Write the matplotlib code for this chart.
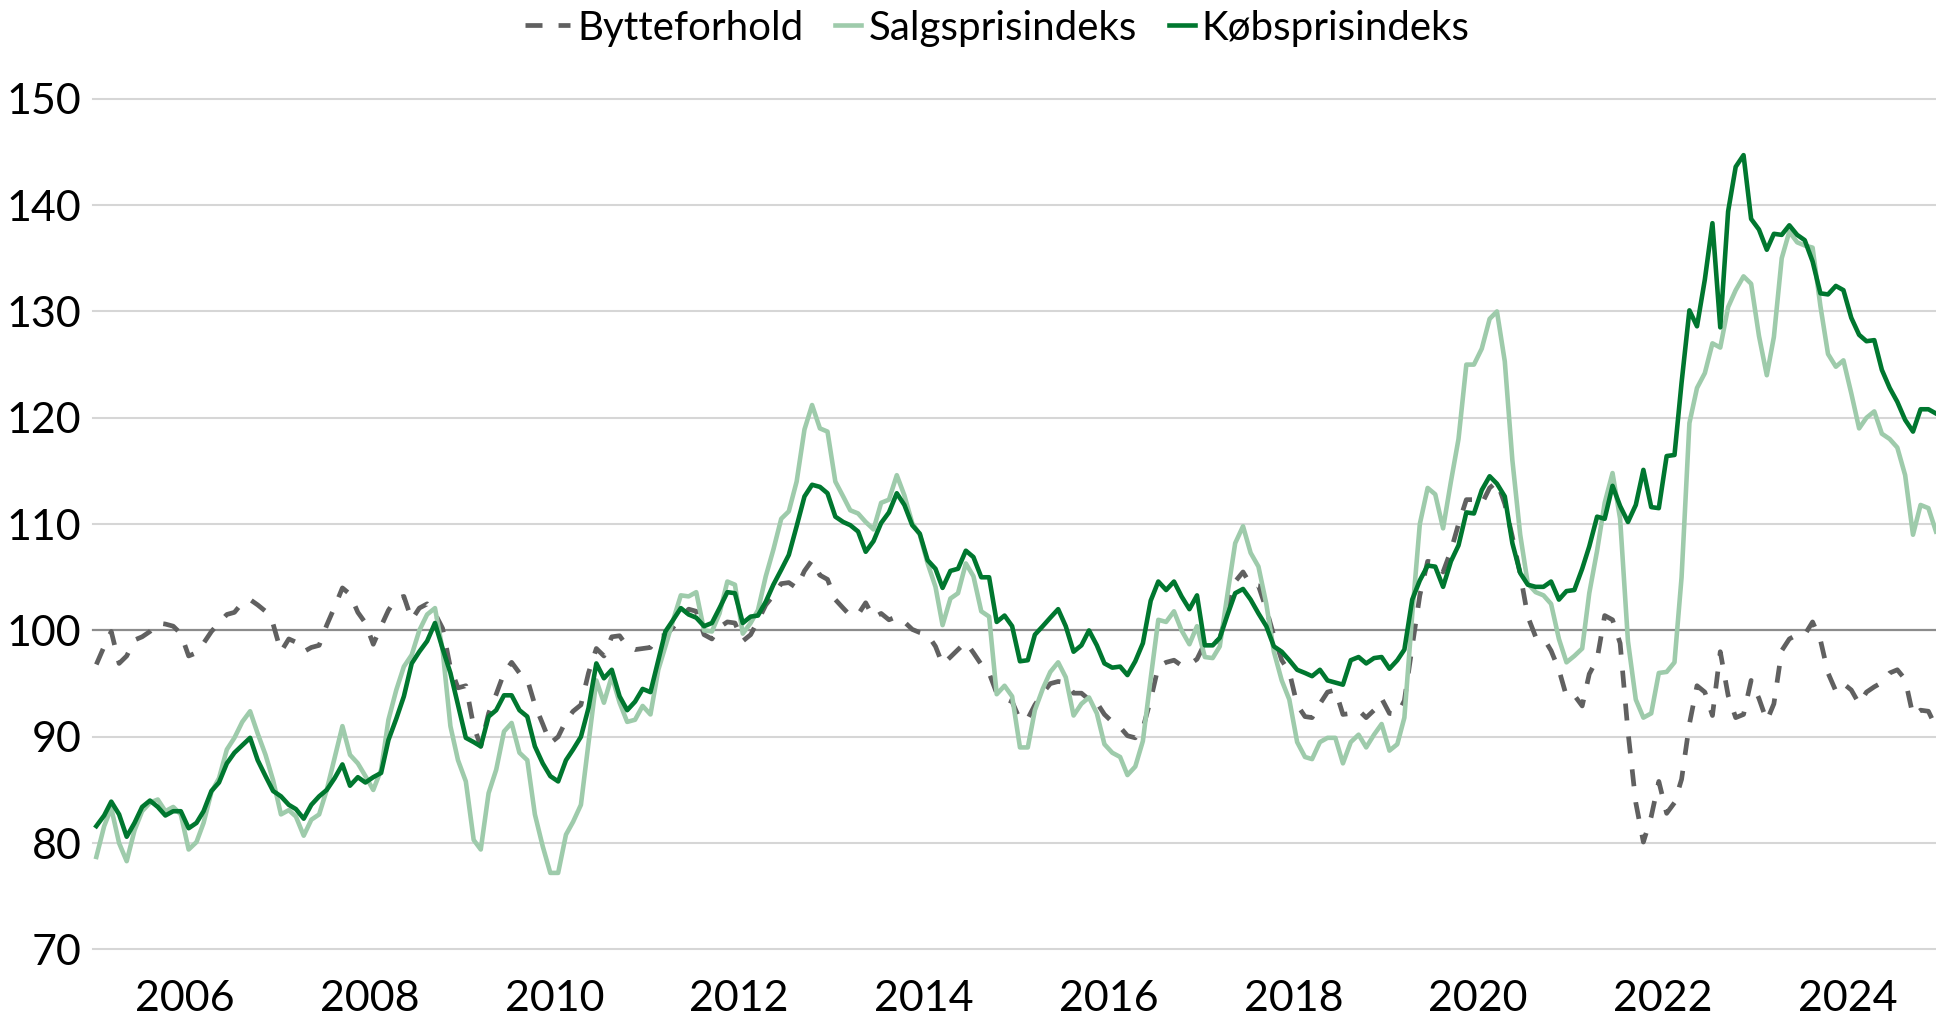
import numpy as np
import pandas as pd
import matplotlib
matplotlib.use("Agg")
import matplotlib.pyplot as plt
import matplotlib.dates as mdates
from matplotlib.legend_handler import HandlerLine2D

plt.rcParams["font.family"] = ["Lato", "DejaVu Sans"]

# monthly index values, Jan 2005 - Dec 2024 (one row per year)
months = pd.date_range("2005-01-01", periods=240, freq="MS")

bytteforhold = [
    96.8, 98.5, 99.9, 96.9, 97.6, 99.1, 99.4, 99.9, 100.7, 100.6, 100.4, 99.7,
    97.6, 97.9, 98.8, 99.9, 100.7, 101.5, 101.7, 102.6, 102.9, 102.4, 101.8, 100.6,
    98.0, 99.2, 98.9, 98.0, 98.4, 98.6, 100.5, 102.2, 104.0, 103.4, 101.7, 100.7,
    98.7, 100.4, 101.9, 103.0, 103.2, 101.0, 102.1, 102.5, 101.6, 100.2, 96.5, 94.6,
    94.8, 91.0, 89.1, 92.2, 94.0, 96.0, 97.0, 96.0, 95.4, 93.0, 91.2, 89.4,
    90.0, 91.5, 92.4, 93.0, 96.0, 98.3, 97.6, 99.4, 99.5, 98.5, 98.2, 98.3,
    98.4, 99.5, 99.5, 100.3, 101.2, 102.0, 101.8, 99.6, 99.2, 100.3, 100.8, 100.7,
    99.0, 99.6, 100.9, 102.4, 103.3, 104.4, 104.5, 104.0, 105.6, 106.6, 105.2, 104.8,
    102.9, 102.1, 101.4, 101.5, 102.6, 101.2, 101.6, 101.0, 101.3, 100.8, 100.1, 99.8,
    99.6, 98.5, 96.8, 97.5, 98.2, 98.9, 97.9, 96.8, 96.0, 94.1, 93.6, 93.3,
    91.6, 91.7, 93.0, 94.1, 95.0, 95.2, 95.1, 94.1, 94.1, 93.5, 93.2, 92.1,
    91.4, 90.9, 90.1, 89.9, 90.8, 93.5, 96.6, 97.0, 97.2, 96.7, 96.8, 97.3,
    98.8, 98.7, 99.2, 102.1, 104.6, 105.5, 104.3, 104.2, 102.0, 99.5, 97.2, 96.1,
    93.0, 91.9, 91.8, 93.1, 94.2, 94.4, 92.1, 92.2, 92.5, 91.8, 92.5, 93.6,
    92.2, 92.1, 93.4, 98.5, 103.3, 106.5, 106.4, 105.5, 107.5, 110.0, 112.3, 112.3,
    111.9, 113.4, 114.0, 111.9, 108.8, 105.3, 101.3, 99.4, 99.3, 98.1, 96.3, 93.8,
    93.9, 92.9, 95.9, 97.3, 101.4, 101.0, 98.8, 90.5, 83.8, 80.1, 82.5, 85.8,
    82.8, 83.8, 86.0, 91.2, 94.8, 94.2, 92.0, 98.0, 93.9, 91.8, 92.1, 95.3,
    93.6, 91.5, 93.1, 98.1, 99.2, 99.6, 99.6, 100.8, 99.1, 96.0, 94.3, 95.0,
    94.4, 93.1, 94.2, 94.7, 95.1, 96.0, 96.3, 95.4, 92.0, 92.5, 92.4, 90.9,
]

salgspris = [
    78.7, 81.6, 83.3, 80.0, 78.3, 81.2, 83.0, 83.8, 84.1, 83.0, 83.4, 82.7,
    79.4, 80.1, 81.9, 84.8, 86.1, 88.8, 89.9, 91.4, 92.4, 90.3, 88.3, 85.9,
    82.7, 83.1, 82.5, 80.7, 82.2, 82.7, 85.0, 88.0, 91.0, 88.3, 87.5, 86.3,
    85.0, 86.9, 91.6, 94.4, 96.6, 97.7, 100.0, 101.5, 102.1, 98.2, 91.0, 87.8,
    85.8, 80.3, 79.4, 84.7, 86.9, 90.5, 91.3, 88.5, 87.8, 82.7, 79.7, 77.2,
    77.2, 80.8, 82.0, 83.6, 89.4, 95.3, 93.2, 95.7, 93.2, 91.4, 91.6, 92.9,
    92.1, 96.3, 98.5, 101.0, 103.3, 103.2, 103.6, 100.0, 99.9, 101.6, 104.6, 104.3,
    99.7, 100.7, 101.9, 105.1, 107.6, 110.5, 111.2, 114.0, 118.9, 121.2, 119.0, 118.7,
    114.0, 112.6, 111.3, 111.0, 110.2, 109.5, 112.0, 112.3, 114.6, 112.7, 110.1, 109.0,
    106.3, 104.1, 100.5, 103.0, 103.5, 106.3, 105.1, 101.8, 101.3, 94.0, 94.8, 93.8,
    89.0, 89.0, 92.5, 94.5, 96.1, 97.0, 95.6, 92.0, 93.1, 93.7, 92.2, 89.3,
    88.5, 88.1, 86.4, 87.2, 89.6, 95.5, 101.0, 100.8, 101.8, 100.0, 98.7, 100.4,
    97.5, 97.4, 98.5, 103.5, 108.2, 109.8, 107.3, 106.0, 102.5, 98.0, 95.3, 93.5,
    89.5, 88.1, 87.9, 89.5, 89.9, 89.9, 87.5, 89.5, 90.2, 89.0, 90.2, 91.2,
    88.7, 89.3, 91.8, 101.5, 110.0, 113.4, 112.8, 109.6, 114.0, 118.0, 125.0, 125.0,
    126.5, 129.3, 130.0, 125.3, 116.0, 109.0, 104.4, 103.6, 103.3, 102.5, 99.2, 97.0,
    97.6, 98.3, 103.5, 107.5, 112.0, 114.8, 110.5, 99.0, 93.5, 91.8, 92.2, 96.0,
    96.1, 97.0, 105.0, 119.5, 122.8, 124.2, 127.0, 126.6, 130.4, 132.0, 133.3, 132.6,
    127.7, 124.0, 127.6, 135.0, 137.5, 136.5, 136.2, 136.0, 130.5, 126.0, 124.8, 125.4,
    122.3, 119.0, 120.0, 120.6, 118.5, 118.0, 117.2, 114.6, 109.0, 111.8, 111.5, 109.3,
]

koebspris = [
    81.6, 82.6, 83.9, 82.7, 80.6, 81.9, 83.4, 84.0, 83.4, 82.6, 83.0, 83.0,
    81.4, 81.9, 83.0, 84.9, 85.7, 87.5, 88.5, 89.2, 89.9, 87.8, 86.3, 84.9,
    84.4, 83.6, 83.2, 82.3, 83.6, 84.4, 85.0, 86.1, 87.4, 85.4, 86.2, 85.7,
    86.2, 86.6, 89.7, 91.7, 93.8, 96.9, 98.0, 99.0, 100.7, 98.3, 96.0, 93.0,
    89.9, 89.5, 89.1, 91.9, 92.5, 93.9, 93.9, 92.5, 91.9, 89.1, 87.5, 86.3,
    85.8, 87.8, 88.8, 90.0, 92.7, 96.9, 95.5, 96.3, 93.8, 92.5, 93.3, 94.5,
    94.2, 97.2, 99.9, 101.0, 102.1, 101.5, 101.2, 100.4, 100.7, 102.1, 103.6, 103.5,
    100.7, 101.3, 101.4, 102.7, 104.3, 105.7, 107.1, 109.8, 112.6, 113.7, 113.5, 112.9,
    110.7, 110.2, 109.9, 109.3, 107.4, 108.4, 110.1, 111.1, 112.9, 111.8, 109.9, 109.1,
    106.6, 105.8, 104.0, 105.6, 105.8, 107.5, 106.9, 105.0, 105.0, 100.8, 101.4, 100.4,
    97.1, 97.2, 99.6, 100.4, 101.2, 102.0, 100.4, 98.0, 98.6, 100.0, 98.6, 96.9,
    96.5, 96.6, 95.8, 97.1, 98.8, 102.8, 104.6, 103.8, 104.6, 103.2, 102.0, 103.3,
    98.6, 98.6, 99.3, 101.5, 103.5, 103.9, 102.9, 101.6, 100.4, 98.5, 98.0, 97.2,
    96.3, 96.0, 95.7, 96.3, 95.3, 95.1, 94.9, 97.2, 97.5, 96.9, 97.4, 97.5,
    96.4, 97.2, 98.2, 102.9, 104.7, 106.1, 106.0, 104.1, 106.5, 108.0, 111.1, 111.0,
    113.2, 114.5, 113.8, 112.6, 108.2, 105.4, 104.3, 104.1, 104.1, 104.6, 102.9, 103.7,
    103.8, 105.8, 107.9, 110.7, 110.5, 113.6, 111.7, 110.2, 111.8, 115.1, 111.6, 111.5,
    116.4, 116.5, 123.3, 130.1, 128.6, 133.0, 138.3, 128.5, 139.4, 143.6, 144.7, 138.7,
    137.7, 135.8, 137.3, 137.2, 138.1, 137.2, 136.7, 134.7, 131.7, 131.6, 132.4, 132.0,
    129.4, 127.8, 127.2, 127.3, 124.5, 122.8, 121.5, 119.8, 118.7, 120.8, 120.8, 120.4,
]

y_ticks = [70, 80, 90, 100, 110, 120, 130, 140, 150]


class RightHandle(HandlerLine2D):
    """Legend line drawn shorter and pushed to the right end of the handle box."""

    def __init__(self, frac, **kw):
        super().__init__(**kw)
        self.frac = frac

    def create_artists(self, legend, orig_handle, xdescent, ydescent,
                       width, height, fontsize, trans):
        w = width * self.frac
        return super().create_artists(legend, orig_handle, xdescent - (width - w),
                                      ydescent, w, height, fontsize, trans)


fig = plt.figure(figsize=(19.36, 10.16), dpi=100)
ax = fig.add_axes([0.0478, 0.0655, 0.9522, 0.8373])

x = months + pd.Timedelta(days=15)

for v in y_ticks:
    if v == 100:
        ax.axhline(v, color="#8c8c8c", lw=1.6, zorder=1, clip_on=False)
    else:
        ax.axhline(v, color="#d6d6d6", lw=1.5, zorder=0, clip_on=False)

lb, = ax.plot(x, bytteforhold, color="#606060", lw=3.4, dashes=(3.6, 3.4),
              dash_capstyle="butt", label="Bytteforhold", zorder=3)
ls, = ax.plot(x, salgspris, color="#9ecbab", lw=3.3, solid_joinstyle="round",
              label="Salgsprisindeks", zorder=4)
lk, = ax.plot(x, koebspris, color="#00772f", lw=3.3, solid_joinstyle="round",
              label="Købsprisindeks", zorder=5)

ax.set_ylim(70, 150)
ax.set_yticks(y_ticks)
ax.set_xlim(pd.Timestamp("2005-01-01"), pd.Timestamp("2024-12-16"))
ax.xaxis.set_major_locator(mdates.YearLocator(2))
ax.xaxis.set_major_formatter(mdates.DateFormatter("%Y"))

for s in ax.spines.values():
    s.set_visible(False)
ax.tick_params(axis="both", length=0, labelsize=31, colors="#000000")
ax.tick_params(axis="x", pad=22)
ax.tick_params(axis="y", pad=8)

fig.legend(handles=[lb, ls, lk], loc="center", ncol=3, frameon=False,
           bbox_to_anchor=(0.5152, 0.9724), bbox_transform=fig.transFigure,
           fontsize=29, handlelength=1.12, handletextpad=0.17,
           columnspacing=0.32, borderpad=0,
           handler_map={ls: RightHandle(0.58), lk: RightHandle(0.58)})

fig.savefig("out.png", dpi=100)
plt.close(fig)
